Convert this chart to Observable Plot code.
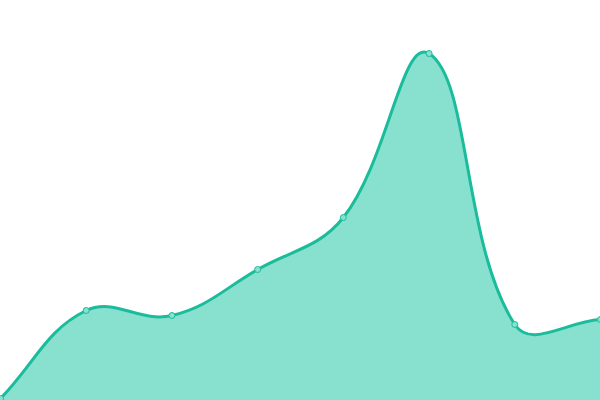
<!DOCTYPE html>
<html><head><meta charset="utf-8">
<script src="https://cdn.jsdelivr.net/npm/d3@7"></script>
<script src="https://cdn.jsdelivr.net/npm/@observablehq/plot@0.6"></script>
<style>body{margin:0;background:#fff}</style>
</head><body><div id="chart"></div>
<script>
const xs = [0, 1, 2, 3, 4, 5, 6, 7];
const values = [2, 90, 85, 131, 183, 347, 76, 81];
const data = xs.map((x, i) => ({x, y: values[i]}));

// Spline with tension 0.4 (control points scaled by neighbour distances)
class TensionCurve {
  constructor(context, t) { this._context = context; this._t = t; }
  areaStart() { this._line = 0; }
  areaEnd() { this._line = NaN; }
  lineStart() { this._pts = []; }
  point(x, y) { this._pts.push([+x, +y]); }
  lineEnd() {
    const p = this._pts, n = p.length, c = this._context, t = this._t;
    if (n) { if (this._line) c.lineTo(p[0][0], p[0][1]); else c.moveTo(p[0][0], p[0][1]); }
    const ctrl = p.map((cur, i) => {
      const prev = i > 0 ? p[i - 1] : cur;
      const next = i < n - 1 ? p[i + 1] : cur;
      const d01 = Math.hypot(cur[0] - prev[0], cur[1] - prev[1]);
      const d12 = Math.hypot(next[0] - cur[0], next[1] - cur[1]);
      let s01 = d01 / (d01 + d12), s12 = d12 / (d01 + d12);
      if (isNaN(s01)) s01 = 0; if (isNaN(s12)) s12 = 0;
      const fa = t * s01, fb = t * s12;
      return {
        prev: [cur[0] - fa * (next[0] - prev[0]), cur[1] - fa * (next[1] - prev[1])],
        next: [cur[0] + fb * (next[0] - prev[0]), cur[1] + fb * (next[1] - prev[1])]
      };
    });
    for (let i = 0; i < n - 1; ++i) {
      const a = ctrl[i].next, b = ctrl[i + 1].prev;
      c.bezierCurveTo(a[0], a[1], b[0], b[1], p[i + 1][0], p[i + 1][1]);
    }
    if (this._line || (this._line !== 0 && n === 1)) c.closePath();
    this._line = 1 - this._line;
  }
}
const curve = (context) => new TensionCurve(context, 0.4);

const chart = Plot.plot({
  width: 600, height: 400,
  margin: 0,
  x: {domain: [0, 7], axis: null},
  y: {domain: [0, 400], axis: null},
  marks: [
    Plot.areaY(data, {x: "x", y: "y", curve, fill: "#88e0cf"}),
    Plot.lineY(data, {x: "x", y: "y", curve, stroke: "#1abc9c", strokeWidth: 3}),
    Plot.dot(data, {x: "x", y: "y", r: 3, fill: "#88e0cf", stroke: "#1abc9c", strokeWidth: 1})
  ]
});
document.getElementById("chart").append(chart);
</script></body></html>
